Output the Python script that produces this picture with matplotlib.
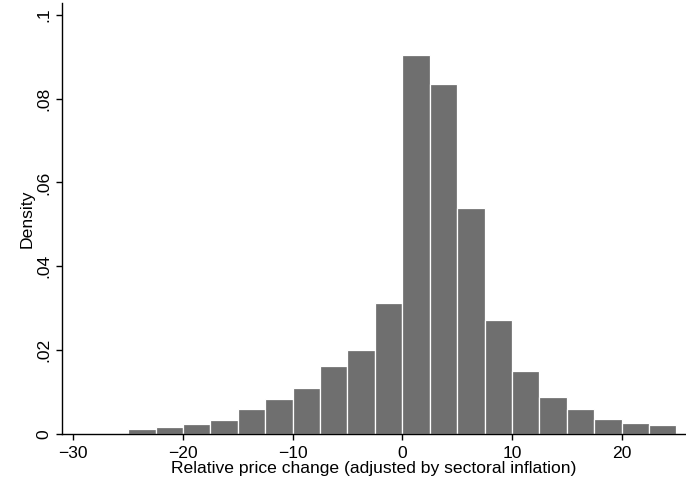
import matplotlib
matplotlib.use("Agg")
import matplotlib.pyplot as plt
from matplotlib.ticker import FuncFormatter

# histogram bins (width 2.5) and densities
bin_left = [-25, -22.5, -20, -17.5, -15, -12.5, -10, -7.5, -5, -2.5,
            0, 2.5, 5, 7.5, 10, 12.5, 15, 17.5, 20, 22.5]
density = [0.0011, 0.0017, 0.0024, 0.0034, 0.0059, 0.0083, 0.0109, 0.0161, 0.0201, 0.0313,
           0.0903, 0.0834, 0.0540, 0.0273, 0.0151, 0.0088, 0.0060, 0.0036, 0.0026, 0.0021]
bin_width = 2.5

x_ticks = [-30, -20, -10, 0, 10, 20]
y_ticks = [0, 0.02, 0.04, 0.06, 0.08, 0.1]

plt.rcParams['font.family'] = ['Liberation Sans', 'DejaVu Sans']

fig = plt.figure(figsize=(6.86, 4.86), dpi=100)
ax = fig.add_axes([62 / 686, 52 / 486, 624 / 686, 431 / 486])

ax.bar(bin_left, density, width=bin_width, align='edge',
       color='#6f6f6f', edgecolor='white', linewidth=0.9)

ax.set_xlim(-31.03, 25.87)
ax.set_ylim(0, 0.1028)

ax.set_xticks(x_ticks)
ax.set_yticks(y_ticks)
ax.xaxis.set_major_formatter(FuncFormatter(lambda v, p: "%d" % v if v >= 0 else "\u2212%d" % -v))
ax.yaxis.set_major_formatter(FuncFormatter(lambda v, p: "0" if v == 0 else ("%g" % v).lstrip("0")))

for lab in ax.get_yticklabels():
    lab.set_rotation(90)
    lab.set_va('center')

ax.tick_params(axis='both', direction='out', length=4.5, width=1, labelsize=12.6, color='black')
ax.tick_params(axis='y', pad=3.5)
ax.tick_params(axis='x', pad=4)

for s in ['top', 'right']:
    ax.spines[s].set_visible(False)
for s in ['left', 'bottom']:
    ax.spines[s].set_linewidth(1)

ax.set_xlabel('Relative price change (adjusted by sectoral inflation)', fontsize=12.6, labelpad=0)
ax.set_ylabel('Density', fontsize=12.6, labelpad=1)

fig.savefig('out.png', dpi=100)
